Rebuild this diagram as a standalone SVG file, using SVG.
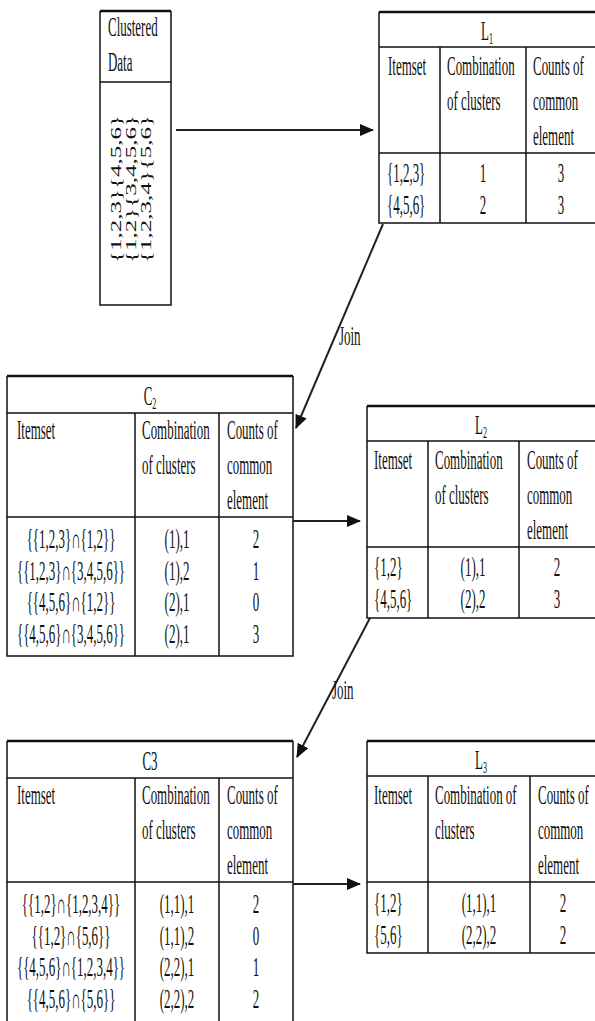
<svg xmlns="http://www.w3.org/2000/svg" width="595" height="1021" viewBox="0 0 595 1021">
<style>
.t{font-family:"Liberation Serif","Times New Roman",serif;font-size:27px;fill:#111}
.c{text-anchor:middle}
.sub{font-size:17px}
.b{stroke:#111;stroke-width:1.5;fill:none}
.bt{stroke:#111;stroke-width:2.5;fill:none}
.rot{font-family:"Liberation Serif","Times New Roman",serif;font-size:25px;fill:#111}
.con{stroke:#222;stroke-width:2;fill:none}
</style>
<defs>
<marker id="ah" markerUnits="userSpaceOnUse" markerWidth="14" markerHeight="12" refX="13" refY="6" orient="auto">
<path d="M0,0 L14,6 L0,12 z" fill="#111"/>
</marker>
</defs>
<rect width="595" height="1021" fill="#fff"/>

<g id="clustered">
<path class="bt" d="M100,11 H171"/>
<path class="b" d="M100,11 V305 H171 V11 M100,82 H171"/>
<text class="t" transform="translate(108,36) scale(0.48,1)">Clustered</text>
<text class="t" transform="translate(108,71) scale(0.48,1)">Data</text>
<text class="rot" transform="translate(121,263) rotate(-90) scale(1,0.56)">{1,2,3}{4,5,6}</text>
<text class="rot" transform="translate(136,263) rotate(-90) scale(1,0.56)">{1,2}{3,4,5,6}</text>
<text class="rot" transform="translate(151,263) rotate(-90) scale(1,0.56)">{1,2,3,4}{5,6}</text>
</g>

<g id="L1">
<path class="bt" d="M379,12 H595"/>
<path class="b" d="M379,12 V223 H595 M379,47 H595 M379,153 H595 M440,47 V223 M526,47 V223"/>
<text class="t c" transform="translate(487,40) scale(0.48,1)">L<tspan class="sub" dy="4">1</tspan></text>
<text class="t" transform="translate(388,75) scale(0.48,1)">Itemset</text>
<text class="t" transform="translate(447,75) scale(0.48,1)">Combination</text>
<text class="t" transform="translate(447,110) scale(0.48,1)">of clusters</text>
<text class="t" transform="translate(533,75) scale(0.48,1)">Counts of</text>
<text class="t" transform="translate(533,110) scale(0.48,1)">common</text>
<text class="t" transform="translate(533,145) scale(0.48,1)">element</text>
<text class="t" transform="translate(387,182) scale(0.48,1)">{1,2,3}</text>
<text class="t c" transform="translate(483,182) scale(0.48,1)">1</text>
<text class="t c" transform="translate(561,182) scale(0.48,1)">3</text>
<text class="t" transform="translate(387,214) scale(0.48,1)">{4,5,6}</text>
<text class="t c" transform="translate(483,214) scale(0.48,1)">2</text>
<text class="t c" transform="translate(561,214) scale(0.48,1)">3</text>
</g>

<g id="C2">
<path class="bt" d="M7,376 H293"/>
<path class="b" d="M7,376 V656 H293 V376 M7,413 H293 M7,517 H293 M135,413 V656 M219,413 V656"/>
<text class="t c" transform="translate(150,405) scale(0.48,1)">C<tspan class="sub" dy="4">2</tspan></text>
<text class="t" transform="translate(17,439) scale(0.48,1)">Itemset</text>
<text class="t" transform="translate(142,439) scale(0.48,1)">Combination</text>
<text class="t" transform="translate(142,474) scale(0.48,1)">of clusters</text>
<text class="t" transform="translate(227,439) scale(0.48,1)">Counts of</text>
<text class="t" transform="translate(227,474) scale(0.48,1)">common</text>
<text class="t" transform="translate(227,509) scale(0.48,1)">element</text>
<text class="t c" transform="translate(71,548) scale(0.48,1)">{{1,2,3}∩{1,2}}</text>
<text class="t c" transform="translate(177,548) scale(0.48,1)">(1),1</text>
<text class="t c" transform="translate(256,548) scale(0.48,1)">2</text>
<text class="t c" transform="translate(71,580) scale(0.48,1)">{{1,2,3}∩{3,4,5,6}}</text>
<text class="t c" transform="translate(177,580) scale(0.48,1)">(1),2</text>
<text class="t c" transform="translate(256,580) scale(0.48,1)">1</text>
<text class="t c" transform="translate(71,611) scale(0.48,1)">{{4,5,6}∩{1,2}}</text>
<text class="t c" transform="translate(177,611) scale(0.48,1)">(2),1</text>
<text class="t c" transform="translate(256,611) scale(0.48,1)">0</text>
<text class="t c" transform="translate(71,643) scale(0.48,1)">{{4,5,6}∩{3,4,5,6}}</text>
<text class="t c" transform="translate(177,643) scale(0.48,1)">(2),1</text>
<text class="t c" transform="translate(256,643) scale(0.48,1)">3</text>
</g>

<g id="L2">
<path class="bt" d="M367,406 H595"/>
<path class="b" d="M367,406 V618 H595 M367,441 H595 M367,547 H595 M428,441 V618 M519,441 V618"/>
<text class="t c" transform="translate(481,434) scale(0.48,1)">L<tspan class="sub" dy="4">2</tspan></text>
<text class="t" transform="translate(374,469) scale(0.48,1)">Itemset</text>
<text class="t" transform="translate(435,469) scale(0.48,1)">Combination</text>
<text class="t" transform="translate(435,504) scale(0.48,1)">of clusters</text>
<text class="t" transform="translate(527,469) scale(0.48,1)">Counts of</text>
<text class="t" transform="translate(527,504) scale(0.48,1)">common</text>
<text class="t" transform="translate(527,539) scale(0.48,1)">element</text>
<text class="t" transform="translate(374,576) scale(0.48,1)">{1,2}</text>
<text class="t c" transform="translate(473,576) scale(0.48,1)">(1),1</text>
<text class="t c" transform="translate(557,576) scale(0.48,1)">2</text>
<text class="t" transform="translate(374,608) scale(0.48,1)">{4,5,6}</text>
<text class="t c" transform="translate(473,608) scale(0.48,1)">(2),2</text>
<text class="t c" transform="translate(557,608) scale(0.48,1)">3</text>
</g>

<g id="C3">
<path class="bt" d="M7,741 H293"/>
<path class="b" d="M7,741 V1022 M293,741 V1022 M7,778 H293 M7,882 H293 M135,778 V1022 M219,778 V1022"/>
<text class="t c" transform="translate(150,770) scale(0.48,1)">C3</text>
<text class="t" transform="translate(17,804) scale(0.48,1)">Itemset</text>
<text class="t" transform="translate(142,804) scale(0.48,1)">Combination</text>
<text class="t" transform="translate(142,839) scale(0.48,1)">of clusters</text>
<text class="t" transform="translate(227,804) scale(0.48,1)">Counts of</text>
<text class="t" transform="translate(227,839) scale(0.48,1)">common</text>
<text class="t" transform="translate(227,874) scale(0.48,1)">element</text>
<text class="t c" transform="translate(71,913) scale(0.48,1)">{{1,2}∩{1,2,3,4}}</text>
<text class="t c" transform="translate(177,913) scale(0.48,1)">(1,1),1</text>
<text class="t c" transform="translate(256,913) scale(0.48,1)">2</text>
<text class="t c" transform="translate(71,945) scale(0.48,1)">{{1,2}∩{5,6}}</text>
<text class="t c" transform="translate(177,945) scale(0.48,1)">(1,1),2</text>
<text class="t c" transform="translate(256,945) scale(0.48,1)">0</text>
<text class="t c" transform="translate(71,976) scale(0.48,1)">{{4,5,6}∩{1,2,3,4}}</text>
<text class="t c" transform="translate(177,976) scale(0.48,1)">(2,2),1</text>
<text class="t c" transform="translate(256,976) scale(0.48,1)">1</text>
<text class="t c" transform="translate(71,1008) scale(0.48,1)">{{4,5,6}∩{5,6}}</text>
<text class="t c" transform="translate(177,1008) scale(0.48,1)">(2,2),2</text>
<text class="t c" transform="translate(256,1008) scale(0.48,1)">2</text>
</g>

<g id="L3">
<path class="bt" d="M367,741 H595"/>
<path class="b" d="M367,741 V953 H595 M367,776 H595 M367,882 H595 M428,776 V953 M530,776 V953"/>
<text class="t c" transform="translate(481,769) scale(0.48,1)">L<tspan class="sub" dy="4">3</tspan></text>
<text class="t" transform="translate(374,804) scale(0.48,1)">Itemset</text>
<text class="t" transform="translate(435,804) scale(0.48,1)">Combination of</text>
<text class="t" transform="translate(435,839) scale(0.48,1)">clusters</text>
<text class="t" transform="translate(538,804) scale(0.48,1)">Counts of</text>
<text class="t" transform="translate(538,839) scale(0.48,1)">common</text>
<text class="t" transform="translate(538,874) scale(0.48,1)">element</text>
<text class="t" transform="translate(374,912) scale(0.48,1)">{1,2}</text>
<text class="t c" transform="translate(479,912) scale(0.48,1)">(1,1),1</text>
<text class="t c" transform="translate(563,912) scale(0.48,1)">2</text>
<text class="t" transform="translate(374,944) scale(0.48,1)">{5,6}</text>
<text class="t c" transform="translate(479,944) scale(0.48,1)">(2,2),2</text>
<text class="t c" transform="translate(563,944) scale(0.48,1)">2</text>
</g>

<g id="connectors">
<path class="con" d="M176,130 H373" marker-end="url(#ah)"/>
<path class="con" d="M383,224 L296,428" marker-end="url(#ah)"/>
<text class="t" transform="translate(339,345) scale(0.48,1)">Join</text>
<path class="con" d="M293,521 H360" marker-end="url(#ah)"/>
<path class="con" d="M370,618 L297,757" marker-end="url(#ah)"/>
<text class="t" transform="translate(332,699) scale(0.48,1)">Join</text>
<path class="con" d="M293,884 H360" marker-end="url(#ah)"/>
</g>
</svg>
